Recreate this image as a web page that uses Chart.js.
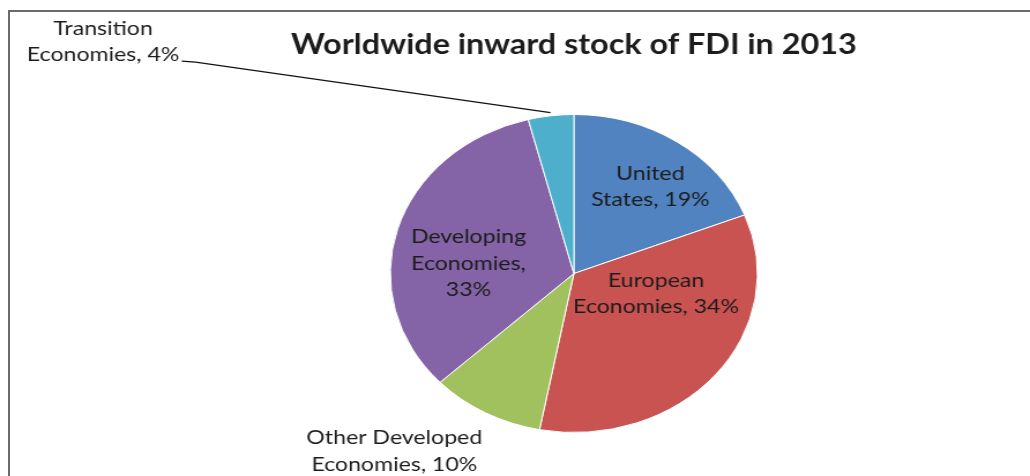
<!DOCTYPE html>
<html>
<head>
<meta charset="utf-8">
<script src="https://cdn.jsdelivr.net/npm/chart.js@4.4.1/dist/chart.umd.min.js"></script>
<style>
  html, body { margin: 0; padding: 0; background: #fff; overflow: hidden; }
  #frame {
    position: absolute; left: 8px; top: 10px; width: 1100px; height: 600px;
    border: 2px solid #6b6b6b; box-sizing: border-box;
  }
  /* the source picture is stretched horizontally, so stretch the whole canvas */
  #wrap {
    position: absolute; left: 0; top: 0; width: 892px; height: 476px;
    transform: scaleX(1.1547); transform-origin: 0 0;
  }
</style>
</head>
<body>
<div id="frame"></div>
<div id="wrap"><canvas id="chart"></canvas></div>
<script>
const chartTitle = "Worldwide inward stock of FDI in 2013";
const categories = [
  ["United", "States, 19%"],
  ["European", "Economies, 34%"],
  ["Other Developed", "Economies, 10%"],
  ["Developing", "Economies,", "33%"],
  ["Transition", "Economies, 4%"],
];
const shares = [19, 34, 10, 33, 4];
const sliceColors = ["#5183C1", "#C85350", "#A1C15E", "#8464A6", "#4DAFCC"];

// label anchors: angle (deg, clockwise from 12 o'clock) and distance as a fraction of the radius
const labelSpots = [
  { angle: 37.2, frac: 0.689 },
  { angle: 105.4, frac: 0.464 },
  { angle: 221.3, frac: 1.482 },
  { angle: 276.6, frac: 0.578 },
  { angle: 299.7, frac: 2.952, leader: true },
];

const fontFamily = "Lato, 'Open Sans', sans-serif";
const lineH = 26.5;

const pieLabels = {
  id: "pieLabels",
  afterDraw(chart) {
    const ctx = chart.ctx;
    const arcs = chart.getDatasetMeta(0).data;
    const cx = arcs[0].x;
    const cy = arcs[0].y;
    const R = arcs[0].outerRadius;

    ctx.save();
    ctx.fillStyle = "#1c1c1c";
    ctx.textAlign = "center";
    ctx.textBaseline = "alphabetic";

    // title
    ctx.font = "bold 28px " + fontFamily;
    ctx.fillText(chartTitle, cx, 54);

    ctx.font = "20px " + fontFamily;
    categories.forEach((lines, i) => {
      const spot = labelSpots[i];
      const a = spot.angle * Math.PI / 180;
      const lx = cx + Math.sin(a) * R * spot.frac;
      const ly = cy - Math.cos(a) * R * spot.frac;
      lines.forEach((txt, j) => {
        const by = ly + (j - (lines.length - 1) / 2) * lineH + 7;
        ctx.fillText(txt, lx, by);
      });

      if (spot.leader) {
        const last = lines[lines.length - 1];
        const w = ctx.measureText(last).width;
        const sx = lx + w / 2 + 2;
        const sy = ly + ((lines.length - 1) / 2) * lineH + 7;
        const arc = arcs[i];
        const mid = (arc.startAngle + arc.endAngle) / 2;
        const ex = cx + Math.cos(mid) * R * 1.02;
        const ey = cy + Math.sin(mid) * R * 1.02;
        ctx.strokeStyle = "#111";
        ctx.lineWidth = 1.2;
        ctx.beginPath();
        ctx.moveTo(sx, sy);
        ctx.lineTo(sx + 12, sy + 1);
        ctx.lineTo(ex, ey);
        ctx.stroke();
      }
    });
    ctx.restore();
  },
};

document.addEventListener("DOMContentLoaded", () => {
  new Chart(document.getElementById("chart"), {
    type: "pie",
    data: {
      labels: categories.map((l) => l.join(" ")),
      datasets: [{
        data: shares,
        backgroundColor: sliceColors,
        borderColor: "#ffffff",
        borderWidth: 1,
      }],
    },
    options: {
      responsive: true,
      maintainAspectRatio: false,
      animation: false,
      layout: {
        padding: { left: 337.5, right: 235.5, top: 114, bottom: 43 },
      },
      plugins: {
        legend: { display: false },
        tooltip: { enabled: false },
        title: { display: false },
      },
    },
    plugins: [pieLabels],
  });
});
</script>
</body>
</html>
